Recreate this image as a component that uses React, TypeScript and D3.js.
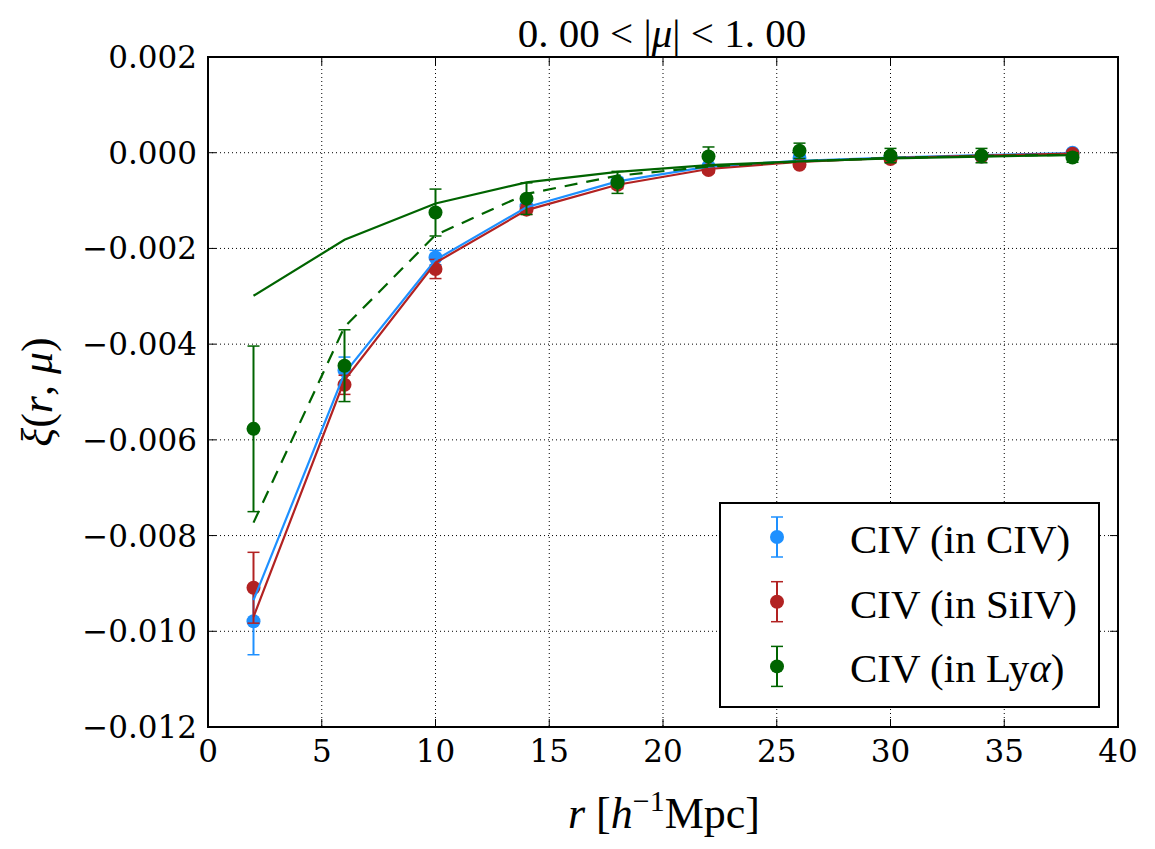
import React, { useRef, useEffect } from "react";
import * as d3 from "d3";

// separations r [h^-1 Mpc]
const rValues = [2, 6, 10, 14, 18, 22, 26, 30, 34, 38];

// measured correlation, CIV in CIV
const civData = [-0.00979, -0.00455, -0.00219, -0.00112, -0.0006, -0.00029, -0.00011, -0.0001, -0.00008, 0.0];
const civErr = [0.0007, 0.00028, 0.00015, 0.0001, 0.00008, 0.00007, 0.00006, 0.00005, 0.00005, 0.00005];
const civModel = [-0.00935, -0.00461, -0.00224, -0.00114, -0.0006, -0.00029, -0.00017, -0.0001, -0.00005, -0.00001];

// CIV in SiIV
const siivData = [-0.00909, -0.00485, -0.00243, -0.00119, -0.00067, -0.00036, -0.00025, -0.00013, -0.00008, -0.00002];
const siivErr = [0.00074, 0.0002, 0.0002, 0.0001, 0.00008, 0.00006, 0.00005, 0.00005, 0.00005, 0.00004];
const siivModel = [-0.0097, -0.00475, -0.0023, -0.0012, -0.00067, -0.00034, -0.00019, -0.00011, -0.00006, -0.00002];

// CIV in Lya
const lyaData = [-0.00577, -0.00445, -0.00125, -0.00096, -0.00062, -0.00008, 0.00004, -0.00006, -0.00006, -0.0001];
const lyaErr = [0.00173, 0.00075, 0.00049, 0.00033, 0.00023, 0.0002, 0.00016, 0.00015, 0.00015, 0.0001];
const lyaModel = [-0.00299, -0.00182, -0.00106, -0.00062, -0.0004, -0.00026, -0.00018, -0.00012, -0.00008, -0.00005];
const lyaModelDashed = [-0.00773, -0.00364, -0.00172, -0.00086, -0.00048, -0.00029, -0.00018, -0.00011, -0.00007, -0.00004];

const xTicks = [0, 5, 10, 15, 20, 25, 30, 35, 40];
const yTicks = [0.002, 0, -0.002, -0.004, -0.006, -0.008, -0.01, -0.012];

const BLUE = "#1e90ff";
const RED = "#b22222";
const GREEN = "#006400";

const TICK_FONT = "'DejaVu Serif', 'Liberation Serif', serif";
const MATH_FONT = "'Liberation Serif', 'DejaVu Serif', serif";

const W = 1155;
const H = 849;
const M = { left: 208, right: 1118, top: 57, bottom: 727 };

const App: React.FC = () => {
  const svgRef = useRef<SVGSVGElement | null>(null);

  useEffect(() => {
    document.body.style.margin = "0";
    if (!svgRef.current) return;
    const svg = d3.select(svgRef.current);
    svg.selectAll("*").remove();

    const x = d3.scaleLinear().domain([0, 40]).range([M.left, M.right]);
    const y = d3.scaleLinear().domain([-0.012, 0.002]).range([M.bottom, M.top]);

    svg.append("rect").attr("width", W).attr("height", H).attr("fill", "white");

    // grid
    const grid = svg.append("g").attr("stroke", "black").attr("stroke-width", 1).attr("stroke-dasharray", "1,3");
    grid.selectAll("line.gx").data(xTicks.slice(1, -1)).enter().append("line")
      .attr("x1", (d) => x(d)).attr("x2", (d) => x(d))
      .attr("y1", M.top).attr("y2", M.bottom);
    grid.selectAll("line.gy").data(yTicks.slice(1, -1)).enter().append("line")
      .attr("y1", (d) => y(d)).attr("y2", (d) => y(d))
      .attr("x1", M.left).attr("x2", M.right);

    // ticks, inward on all sides
    const ticks = svg.append("g").attr("stroke", "black").attr("stroke-width", 1);
    xTicks.forEach((t) => {
      ticks.append("line").attr("x1", x(t)).attr("x2", x(t)).attr("y1", M.bottom).attr("y2", M.bottom - 8);
      ticks.append("line").attr("x1", x(t)).attr("x2", x(t)).attr("y1", M.top).attr("y2", M.top + 8);
    });
    yTicks.forEach((t) => {
      ticks.append("line").attr("y1", y(t)).attr("y2", y(t)).attr("x1", M.left).attr("x2", M.left + 8);
      ticks.append("line").attr("y1", y(t)).attr("y2", y(t)).attr("x1", M.right).attr("x2", M.right - 8);
    });

    const fmt = d3.format(".3f");
    svg.append("g").selectAll("text").data(yTicks).enter().append("text")
      .attr("x", M.left - 11).attr("y", (d) => y(d) + 11)
      .attr("text-anchor", "end")
      .attr("font-family", TICK_FONT).attr("font-size", 31)
      .text((d) => fmt(d).replace("-", "\u2212"));
    svg.append("g").selectAll("text").data(xTicks).enter().append("text")
      .attr("x", (d) => x(d)).attr("y", 762)
      .attr("text-anchor", "middle")
      .attr("font-family", TICK_FONT).attr("font-size", 31)
      .text((d) => String(d));

    const line = (vals: number[]) =>
      d3.line<number>().x((_, i) => x(rValues[i])).y((d) => y(d))(vals) as string;

    const drawModel = (vals: number[], color: string, dash?: string) => {
      svg.append("path").attr("d", line(vals)).attr("fill", "none")
        .attr("stroke", color).attr("stroke-width", 2.2)
        .attr("stroke-dasharray", dash ?? null);
    };

    const drawData = (vals: number[], errs: number[], color: string) => {
      const g = svg.append("g");
      vals.forEach((v, i) => {
        const cx = x(rValues[i]);
        const lo = y(v - errs[i]);
        const hi = y(v + errs[i]);
        g.append("line").attr("x1", cx).attr("x2", cx).attr("y1", lo).attr("y2", hi)
          .attr("stroke", color).attr("stroke-width", 2);
        [lo, hi].forEach((yy) =>
          g.append("line").attr("x1", cx - 6).attr("x2", cx + 6).attr("y1", yy).attr("y2", yy)
            .attr("stroke", color).attr("stroke-width", 1.5));
        g.append("circle").attr("cx", cx).attr("cy", y(v)).attr("r", 7).attr("fill", color);
      });
    };

    drawData(civData, civErr, BLUE);
    drawData(siivData, siivErr, RED);
    drawModel(civModel, BLUE);
    drawModel(siivModel, RED);
    drawData(lyaData, lyaErr, GREEN);
    drawModel(lyaModel, GREEN);
    drawModel(lyaModelDashed, GREEN, "13,9");

    // frame
    svg.append("rect").attr("x", M.left).attr("y", M.top)
      .attr("width", M.right - M.left).attr("height", M.bottom - M.top)
      .attr("fill", "none").attr("stroke", "black").attr("stroke-width", 2);

    // title
    const title = svg.append("text").attr("x", 662).attr("y", 47).attr("text-anchor", "middle")
      .attr("font-family", MATH_FONT).attr("font-size", 41);
    title.append("tspan").text("0. 00 < |");
    title.append("tspan").attr("font-style", "italic").text("\u03bc");
    title.append("tspan").text("| < 1. 00");

    // x label
    const xl = svg.append("text").attr("x", 664).attr("y", 828).attr("text-anchor", "middle")
      .attr("font-family", MATH_FONT).attr("font-size", 44);
    xl.append("tspan").attr("font-style", "italic").text("r");
    xl.append("tspan").text(" [");
    xl.append("tspan").attr("font-style", "italic").text("h");
    xl.append("tspan").attr("dy", -17).attr("font-size", 30).text("\u22121");
    xl.append("tspan").attr("dy", 17).text("Mpc]");

    // y label
    const yl = svg.append("text").attr("transform", "translate(52,392) rotate(-90)")
      .attr("text-anchor", "middle")
      .attr("font-family", MATH_FONT).attr("font-size", 44);
    yl.append("tspan").attr("font-style", "italic").text("\u03be");
    yl.append("tspan").text("(");
    yl.append("tspan").attr("font-style", "italic").text("r");
    yl.append("tspan").text(", ");
    yl.append("tspan").attr("font-style", "italic").text("\u03bc");
    yl.append("tspan").text(")");

    // legend
    const leg = svg.append("g");
    leg.append("rect").attr("x", 720).attr("y", 503).attr("width", 379).attr("height", 204)
      .attr("fill", "white").attr("stroke", "black").attr("stroke-width", 2);
    const entries = [
      { color: BLUE, parts: [["CIV (in CIV)", false]] },
      { color: RED, parts: [["CIV (in SiIV)", false]] },
      { color: GREEN, parts: [["CIV (in Ly", false], ["\u03b1", true], [")", false]] },
    ];
    entries.forEach((e, i) => {
      const cy = 537 + i * 64.7;
      const cx = 777;
      leg.append("line").attr("x1", cx).attr("x2", cx).attr("y1", cy - 20).attr("y2", cy + 20)
        .attr("stroke", e.color).attr("stroke-width", 2);
      [cy - 20, cy + 20].forEach((yy) =>
        leg.append("line").attr("x1", cx - 6).attr("x2", cx + 6).attr("y1", yy).attr("y2", yy)
          .attr("stroke", e.color).attr("stroke-width", 1.5));
      leg.append("circle").attr("cx", cx).attr("cy", cy).attr("r", 7).attr("fill", e.color);
      const t = leg.append("text").attr("x", 850).attr("y", cy + 16)
        .attr("font-family", MATH_FONT).attr("font-size", 41);
      e.parts.forEach(([s, it]) => {
        t.append("tspan").attr("font-style", it ? "italic" : "normal").text(s as string);
      });
    });
  }, []);

  return <svg ref={svgRef} width={W} height={H} style={{ display: "block" }}></svg>;
};

export default App;
